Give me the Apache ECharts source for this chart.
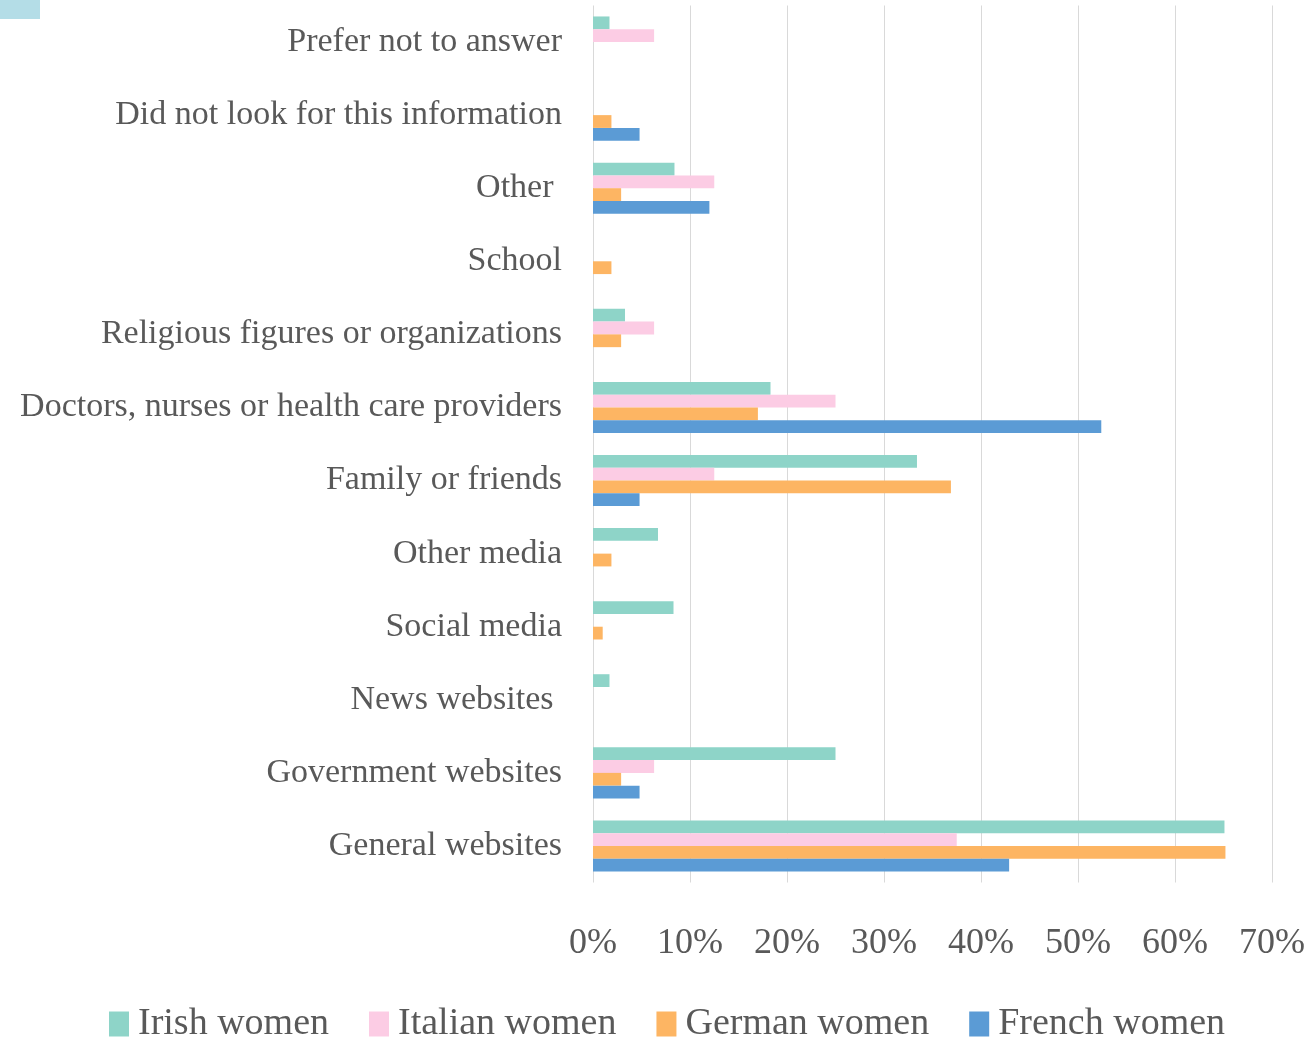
<!DOCTYPE html>
<html>
<head>
<meta charset="utf-8">
<style>
  html, body { margin: 0; padding: 0; background: #fff; }
  #chart { width: 1312px; height: 1038px; }
</style>
<script src="https://cdn.jsdelivr.net/npm/echarts@6/dist/echarts.min.js"></script>
</head>
<body>
<div id="chart"></div>
<script>
// categories, bottom to top
var categories = [
    'General websites',
    'Government websites',
    'News websites ',
    'Social media',
    'Other media',
    'Family or friends',
    'Doctors, nurses or health care providers',
    'Religious figures or organizations',
    'School',
    'Other ',
    'Did not look for this information',
    'Prefer not to answer'
];
// percentages, same order as categories ('-' = no bar)
var irish   = [65.1, 25.0, 1.7, 8.3, 6.7, 33.4, 18.3, 3.3, '-', 8.4, '-', 1.7];
var italian = [37.5, 6.3, '-', '-', '-', 12.5, 25.0, 6.3, '-', 12.5, '-', 6.3];
var german  = [65.2, 2.9, '-', 1.0, 1.9, 36.9, 17.0, 2.9, 1.9, 2.9, 1.9, '-'];
var french  = [42.9, 4.8, '-', '-', '-', 4.8, 52.4, '-', '-', 12.0, 4.8, '-'];

var seriesNames = ['Irish women', 'Italian women', 'German women', 'French women'];
var colors = ['#8ed4c8', '#fccce4', '#fdb563', '#5b9bd5'];
var xTicks = { min: 0, max: 70, interval: 10 };

var font = '"Liberation Serif", "DejaVu Serif", serif';
var chart = echarts.init(document.getElementById('chart'));

function mkSeries(name, data, color) {
    return {
        name: name,
        type: 'bar',
        data: data,
        barGap: '0%',
        barCategoryGap: '30%',
        itemStyle: { color: color },
        emphasis: { disabled: true }
    };
}

var option = {
    animation: false,
    color: colors,
    textStyle: { fontFamily: font, color: '#595959' },
    graphic: [{
        type: 'rect',
        shape: { x: 0, y: 0, width: 40, height: 19 },
        style: { fill: '#b4dde7' }
    }],
    grid: { left: 593, right: 40, top: 5.5, bottom: 155.5, containLabel: false },
    legend: {
        data: seriesNames,
        left: 104,
        top: 1000,
        itemWidth: 20,
        itemHeight: 25,
        itemGap: 40,
        icon: 'rect',
        textStyle: { fontFamily: font, fontSize: 38, color: '#595959', padding: [0, 0, 0, 4] }
    },
    xAxis: {
        type: 'value',
        min: xTicks.min,
        max: xTicks.max,
        interval: xTicks.interval,
        axisLine: { show: false },
        axisTick: { show: false },
        axisLabel: {
            formatter: '{value}%',
            fontFamily: font,
            fontSize: 36,
            color: '#595959',
            margin: 43
        },
        splitLine: { show: true, lineStyle: { color: '#d9d9d9', width: 1 } }
    },
    yAxis: {
        type: 'category',
        data: categories,
        axisLine: { show: false },
        axisTick: { show: false },
        axisLabel: {
            fontFamily: font,
            fontSize: 34,
            color: '#595959',
            margin: 31,
            padding: [4, 0, 0, 0]
        },
        splitLine: { show: false }
    },
    series: [
        mkSeries(seriesNames[0], irish, colors[0]),
        mkSeries(seriesNames[1], italian, colors[1]),
        mkSeries(seriesNames[2], german, colors[2]),
        mkSeries(seriesNames[3], french, colors[3])
    ]
};
chart.setOption(option);
</script>
</body>
</html>
